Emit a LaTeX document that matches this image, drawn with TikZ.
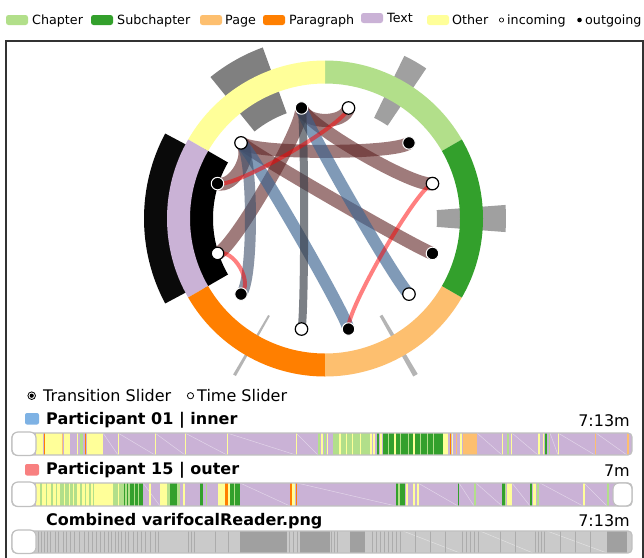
\documentclass[tikz,border=0pt]{standalone}
\usepackage{fontspec}
\setmainfont{DejaVu Sans}
\usetikzlibrary{calc}
\definecolor{cChapter}{HTML}{B2DF8A}
\definecolor{cSub}{HTML}{33A02C}
\definecolor{cPage}{HTML}{FDBF6F}
\definecolor{cPara}{HTML}{FF7F00}
\definecolor{cText}{HTML}{CAB2D6}
\definecolor{cOther}{HTML}{FFFF99}
\definecolor{rbrown}{RGB}{95,35,35}
\definecolor{rblue}{RGB}{60,100,145}
\definecolor{rslate}{RGB}{60,78,105}
\definecolor{rgray}{RGB}{55,60,70}
\definecolor{pblue}{RGB}{126,178,228}
\definecolor{pred}{RGB}{248,128,128}
\definecolor{barline}{RGB}{192,192,192}
\definecolor{gdark}{RGB}{160,160,160}
\definecolor{gmid}{RGB}{172,172,172}
\definecolor{glight}{RGB}{202,202,202}
\definecolor{histA}{RGB}{128,128,128}
\definecolor{histB}{RGB}{160,160,160}
\definecolor{histC}{RGB}{180,180,180}
\newcommand\lgfont{\fontsize{12.7}{15}\selectfont}
\newcommand\lowfont{\fontsize{16}{19}\selectfont}
\newcommand\ringsec[5]{\fill[#1] (#2:#4) arc[start angle=#2, end angle=#3, radius=#4] -- (#3:#5) arc[start angle=#3, end angle=#2, radius=#5] -- cycle;}
\newcommand\chord[3]{\draw[#1] (#2) .. controls ($(cc)!0.85!(#2)$) and ($(cc)!0.85!(#3)$) .. (#3);}
\begin{document}
\begin{tikzpicture}[x=1pt,y=1pt,
  lg/.style={anchor=base west, inner sep=0pt, font=\lgfont},
  lw/.style={anchor=base west, inner sep=0pt, font=\lowfont},
  lb/.style={anchor=base west, inner sep=0pt, font=\lowfont\bfseries},
  le/.style={anchor=base east, inner sep=0pt, font=\lowfont},
  swatch/.style={rounded corners=2.5pt},
  brownrib/.style={draw=rbrown, draw opacity=0.6, line width=13pt},
  bluerib/.style={draw=rblue, draw opacity=0.65, line width=12pt},
  slaterib/.style={draw=rslate, draw opacity=0.6, line width=11pt},
  grayrib/.style={draw=rgray, draw opacity=0.65, line width=8pt},
  redrib/.style={draw=red, draw opacity=0.5, line width=4pt},
  outdot/.style={circle, fill=black, draw=white, line width=1pt, minimum size=12.5pt, inner sep=0pt},
  indot/.style={circle, fill=white, draw=black, line width=1.2pt, minimum size=12.5pt, inner sep=0pt},
  knob/.style={fill=white, draw=barline, rounded corners=6pt, line width=1.2pt},
  barframe/.style={draw=barline, rounded corners=4pt, line width=1.2pt},
  diag/.style={draw=white, draw opacity=0.45, line width=0.5pt}]
\useasboundingbox (0,0) rectangle (644,-557);
\fill[white] (0,0) rectangle (644,-557);
% ---------- legend ----------
\fill[cChapter,swatch] (6,-15) rectangle (28,-25);
\node[lg] (lchap) at (32,-24.3) {Chapter};
\fill[cSub,swatch] (91,-15) rectangle (113,-25);
\node[lg] (lsub) at (117,-24.3) {Subchapter};
\fill[cPage,swatch] (200,-15) rectangle (222,-25);
\node[lg] (lpage) at (225,-24.3) {Page};
\fill[cPara,swatch] (263,-15) rectangle (285,-25);
\node[lg] (lpara) at (289,-24.3) {Paragraph};
\fill[cText,swatch] (361,-13) rectangle (383,-23);
\node[lg] (ltext) at (387,-22.3) {Text};
\fill[cOther,swatch] (427,-15) rectangle (449,-25);
\node[lg] (lother) at (452,-24.3) {Other};
\draw[line width=0.7pt] (501.5,-20) circle[radius=2.1];
\node[lg] (lin) at (507,-24.3) {incoming};
\fill (579.5,-20) circle[radius=2.3];
\node[lg] (lout) at (585,-24.3) {outgoing};
% ---------- frame ----------
\draw[line width=1.3pt, black!80] (6,-570) -- (6,-41) -- (643,-41) -- (643,-570);
% ---------- chord diagram ----------
\begin{scope}[shift={(325,-218.5)}]
\coordinate (cc) at (0,0);
% histogram bars behind ring
\ringsec{black}{150}{210}{112}{140}
\ringsec{black!96}{152}{208}{155}{181}
\ringsec{histA}{110}{129}{112}{182}
\ringsec{histB}{56}{64}{112}{181}
\ringsec{histB}{-4.3}{4.3}{112}{181}
\ringsec{histC}{239.5}{240.5}{112}{181}
\ringsec{histC}{299.2}{300.8}{112}{181}
% ring
\ringsec{cChapter}{30}{90}{135}{158}
\ringsec{cOther}{90}{150}{135}{158}
\ringsec{cText}{150}{210}{135}{158}
\ringsec{cPara}{210}{270}{135}{158}
\ringsec{cPage}{270}{330}{135}{158}
\ringsec{cSub}{-30}{30}{135}{158}
% endpoints
\foreach \a in {18,42,78,102,138,162,198,222,258,282,318,342}
  \coordinate (p\a) at (\a:113);
% ribbons
\chord{brownrib}{p102}{p78}
\chord{brownrib}{p102}{p18}
\chord{brownrib}{p102}{p198}
\chord{brownrib}{p42}{p138}
\chord{brownrib}{p342}{p138}
\chord{brownrib}{p162}{p138}
\chord{bluerib}{p282}{p138}
\chord{bluerib}{p102}{p318}
\chord{slaterib}{p222}{p138}
\chord{grayrib}{p102}{p258}
\chord{redrib}{p162}{p78}
\chord{redrib}{p222}{p198}
\chord{redrib}{p282}{p18}
% dots
\node[outdot] (d42) at (p42) {};
\node[indot] (d78) at (p78) {};
\node[outdot] (d102) at (p102) {};
\node[indot] (d138) at (p138) {};
\node[outdot] (d162) at (p162) {};
\node[indot] (d198) at (p198) {};
\node[outdot] (d222) at (p222) {};
\node[indot] (d258) at (p258) {};
\node[outdot] (d282) at (p282) {};
\node[indot] (d318) at (p318) {};
\node[outdot] (d342) at (p342) {};
\node[indot] (d18) at (p18) {};
\end{scope}
% ---------- slider legend ----------
\draw[line width=0.8pt] (31.7,-395.7) circle[radius=3.8];
\fill (31.7,-395.7) circle[radius=2.1];
\node[lw] (ltrans) at (43,-401) {Transition Slider};
\draw[line width=0.8pt] (190.5,-395.7) circle[radius=3.1];
\node[lw] (ltime) at (197,-401) {Time Slider};
% ---------- participant 01 ----------
\fill[pblue,rounded corners=2pt] (25,-413) rectangle (39,-424.5);
\node[lb] (lp1) at (46,-424.3) {Participant 01 | inner};
\node[le] (tp1) at (630,-426) {7:13m};
\begin{scope}
\clip[rounded corners=4pt] (12,-433) rectangle (632,-455);
\fill[cText] (30,-433) rectangle (632,-455);
\foreach \a/\b in {103/118,118/155,155/185,185/227,227/296,296/318,477/502,512/538,550/558,558/595,596/627}
  \draw[diag] (\a,-433) -- (\b,-455);
\foreach \a/\b/\c in {36/43/cOther,43.5/44.8/cPara,45/62/cOther,62/63.2/cPage,64/70/cOther,77/78/cOther,80/83/cChapter,85/86.2/cPara,87/103/cOther,
  117.5/119/cOther,154.5/156/cOther,184.5/186/cOther,226.5/228/cOther,295.5/297/cOther,
  318/319.5/cChapter,321/322.5/cOther,324/325.5/cChapter,327/328/cOther,
  333/370/cChapter,339/340.5/cOther,346/347/cOther,352/353/cOther,360/361/cOther,
  370/371.5/cOther,373/375/cOther,377/379/cSub,380/382/cOther,
  383/443/cSub,388/389/cChapter,394/395.5/cOther,400/401/cChapter,408/409/cChapter,413/414.5/cOther,420/421/cChapter,427/428/cChapter,433/434/cChapter,
  443/448/cOther,450/451/cPara,452/453/cOther,456/457/cPage,460/462/cOther,463/477/cPage,
  501.5/503/cOther,507/508.5/cChapter,510.5/512/cOther,538/539.5/cOther,542.5/544/cOther,545/547/cSub,548.5/550/cChapter,557.5/559/cOther,594.5/596/cPage,627/628.5/cPage}
  \fill[\c] (\a,-433) rectangle (\b,-455);
\end{scope}
\draw[barframe] (12,-433) rectangle (632,-455);
\draw[knob] (12,-432) rectangle (36,-455.5);
% ---------- participant 15 ----------
\fill[pred,rounded corners=2pt] (25,-464) rectangle (39,-475.5);
\node[lb] (lp2) at (46,-474.3) {Participant 15 | outer};
\node[le] (tp2) at (630,-476) {7m};
\begin{scope}
\clip[rounded corners=4pt] (12,-483) rectangle (632,-506);
\fill[cText] (30,-483) rectangle (632,-506);
\foreach \a/\b in {143/160,240/290,297/396,418/458,459/474,476/502,512/530,540/583,584/607}
  \draw[diag] (\a,-483) -- (\b,-506);
\foreach \a/\b/\c in {36/113/cOther,40/41.5/cChapter,46/47/cChapter,51/53/cChapter,56/57/cChapter,60/77/cChapter,64/65/cOther,69/70/cOther,73/74/cOther,80/82/cChapter,85/86/cChapter,89/90.5/cChapter,93/94/cChapter,
  113/130/cChapter,118/119/cOther,124/125/cSub,127/128/cSub,
  130/143/cSub,134/135/cChapter,138/139/cChapter,149/151/cOther,
  160/167/cOther,167/170/cChapter,170/177/cSub,177/180/cChapter,183/185/cOther,
  200/203/cSub,206/207/cChapter,
  218/225/cOther,225/227.5/cPara,228/230/cOther,230/240/cSub,233.5/234.5/cChapter,
  290/291.5/cPara,292/295/cOther,296/297/cPara,
  396/398/cSub,398/400/cChapter,400/402.5/cSub,403/405/cSub,406/408/cOther,413/414.5/cOther,417/418.5/cOther,
  457.5/459/cSub,474/475.5/cChapter,502/505/cSub,505/506/cChapter,507/512/cOther,
  530/531.5/cSub,533/536/cOther,537/539/cChapter,583/584.5/cOther,607/608.5/cChapter}
  \fill[\c] (\a,-483) rectangle (\b,-506);
\end{scope}
\draw[barframe] (12,-483) rectangle (632,-506);
\draw[knob] (12,-482) rectangle (36,-506.5);
\draw[knob] (613,-483) rectangle (632,-506);
% ---------- combined ----------
\node[lb] (lp3) at (46,-525) {Combined varifocalReader.png};
\node[le] (tp3) at (630,-526.7) {7:13m};
\begin{scope}
\clip[rounded corners=4pt] (12,-531) rectangle (632,-553);
\fill[glight] (30,-531) rectangle (632,-553);
\foreach \a/\b in {240/287,300/330,350/365,403/460,480/533,547/607,607/627}
  \draw[diag] (\a,-531) -- (\b,-553);
\foreach \a/\b in {240/287,300/330,350/365,607/627}
  \fill[gdark] (\a,-531) rectangle (\b,-553);
\foreach \x in {38,41,44,47,50,55,58,63,66,70,74,79,84,88,92,96,100,104,108,111,115,118,121,125,128,133,137,141,145,150,155,158,188,191,194,215,228,289,293,297,331,334,337,372,376,380,384,388,392,396,400,415,430,445,462,466,470,474,478,500,515,535,538,541,544,560,575,590}
  \fill[gmid] (\x,-531) rectangle (\x+1.2,-553);
\end{scope}
\draw[barframe] (12,-531) rectangle (632,-553);
\draw[knob] (12,-530) rectangle (36,-553.5);
\end{tikzpicture}
\end{document}
